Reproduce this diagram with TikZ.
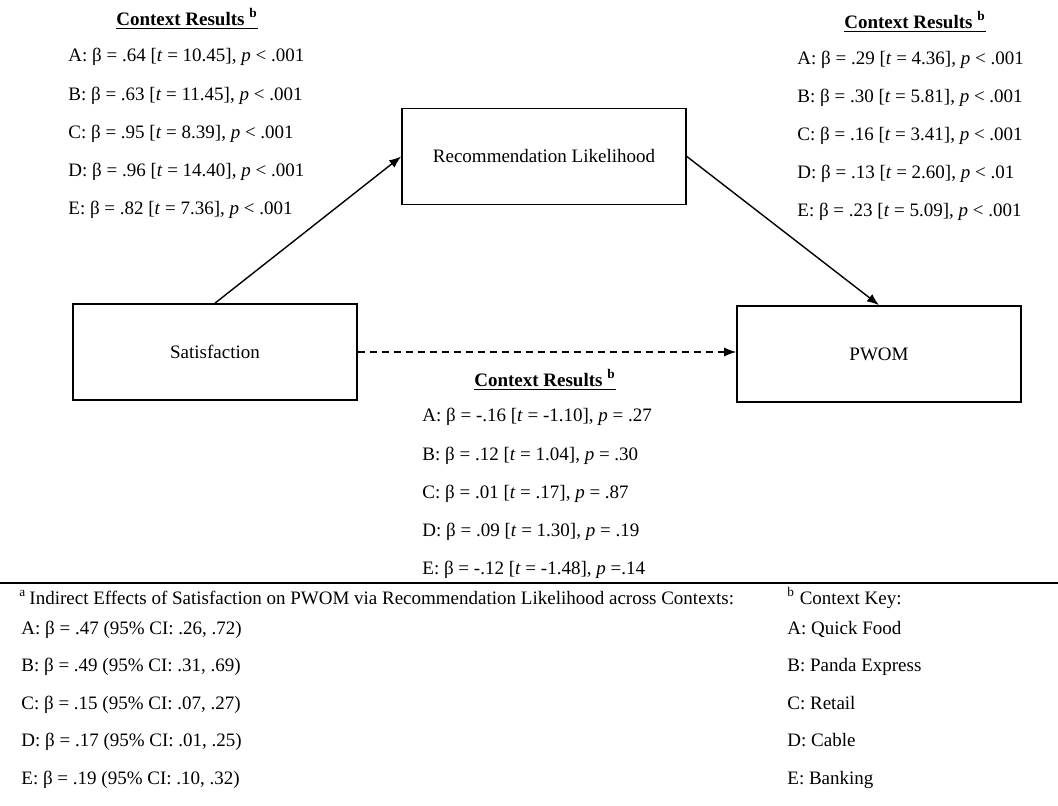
\documentclass[tikz,border=0pt]{standalone}
\usepackage{fontspec}
\setmainfont{Liberation Serif}
\usetikzlibrary{arrows.meta}
\tikzset{
  varbox/.style={draw,line width=0.85pt,minimum width=142pt,minimum height=48pt,inner sep=0pt},
  link/.style={line width=0.7pt,-{Latex[length=6pt,width=4.6pt]}},
  res/.style={anchor=west,inner sep=0pt,text height=7pt,text depth=2pt},
  hdr/.style={inner sep=0pt,font=\fontsize{9.5}{11}\selectfont\bfseries}
}
\begin{document}
\begin{tikzpicture}[x=0.5pt,y=-0.5pt,font=\fontsize{9.5}{11}\selectfont]
\useasboundingbox (0,0) rectangle (1058,806);
\node[varbox] (sat) at (215,352) {Satisfaction};
\node[varbox] (rec) at (544,156.5) {Recommendation Likelihood};
\node[varbox] (pwom) at (879,354) {PWOM};
\draw[link] (sat.north) -- (rec.west);
\draw[link] (rec.east) -- (pwom.north);
\draw[link,dash pattern=on 3.5pt off 2.5pt] (sat.east) -- (sat.east -| pwom.west);
\node[hdr] (hdrl) at (187,19) {\underline{Context Results \textsuperscript{b}}};
\foreach \lbl/\bv/\tv/\pv [count=\i from 0] in {A/.64/10.45/< .001, B/.63/11.45/< .001,
    C/.95/8.39/< .001, D/.96/14.40/< .001, E/.82/7.36/< .001}
  \node[res] (ctl\i) at (68,57+38.25*\i) {\lbl: β = \bv{} [\textit{t} = \tv], \textit{p} \pv};
\node[hdr] (hdrr) at (915,22) {\underline{Context Results \textsuperscript{b}}};
\foreach \lbl/\bv/\tv/\pv [count=\i from 0] in {A/.29/4.36/< .001, B/.30/5.81/< .001,
    C/.16/3.41/< .001, D/.13/2.60/< .01, E/.23/5.09/< .001}
  \node[res] (ctr\i) at (797,60+38*\i) {\lbl: β = \bv{} [\textit{t} = \tv], \textit{p} \pv};
\node[hdr] (hdrm) at (545,380) {\underline{Context Results \textsuperscript{b}}};
\foreach \lbl/\bv/\tv/\pv [count=\i from 0] in {A/-.16/-1.10/= .27, B/.12/1.04/= .30,
    C/.01/.17/= .87, D/.09/1.30/= .19, E/-.12/-1.48/=.14}
  \node[res] (ctm\i) at (422,417+38*\i) {\lbl: β = \bv{} [\textit{t} = \tv], \textit{p} \pv};
\draw[line width=0.6pt] (0,583) -- (1058,583);
\node[res] (fna) at (19,599) {\textsuperscript{a}\,Indirect Effects of Satisfaction on PWOM via Recommendation Likelihood across Contexts:};
\foreach \lbl/\bv/\ci [count=\i from 0] in {A/.47/{.26, .72}, B/.49/{.31, .69},
    C/.15/{.07, .27}, D/.17/{.01, .25}, E/.19/{.10, .32}}
  \node[res] (fa\i) at (21,629+37.5*\i) {\lbl: β = \bv{} (95\% CI: \ci)};
\node[res] (fnb) at (787,599) {\textsuperscript{b} Context Key:};
\foreach \lbl/\ctx [count=\i from 0] in {A/Quick Food, B/Panda Express, C/Retail, D/Cable, E/Banking}
  \node[res] (fb\i) at (787,629+37.5*\i) {\lbl: \ctx};
\end{tikzpicture}
\end{document}
